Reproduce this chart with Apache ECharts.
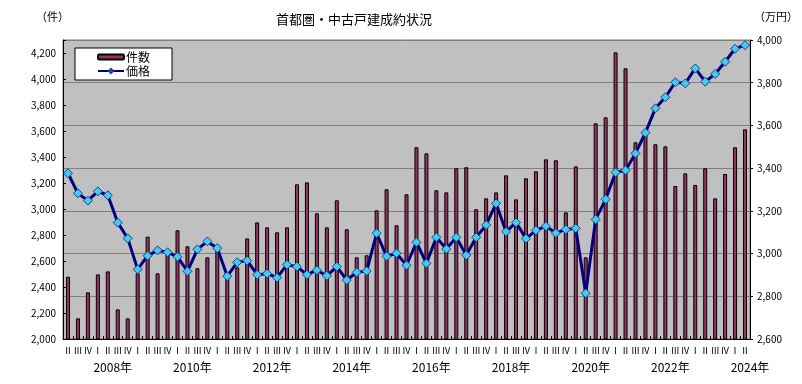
<!DOCTYPE html>
<html>
<head>
<meta charset="utf-8">
<script src="https://cdn.jsdelivr.net/npm/echarts@6/dist/echarts.min.js"></script>
<style>html,body{margin:0;padding:0;background:#fff;}#c{width:802px;height:384px;}</style>
</head>
<body>
<div id="c"></div>
<script>
// Quarter labels 2007 Q2 .. 2024 Q2
const quarterLabels = [
 'Ⅱ','Ⅲ','Ⅳ',
 'Ⅰ','Ⅱ','Ⅲ','Ⅳ', 'Ⅰ','Ⅱ','Ⅲ','Ⅳ', 'Ⅰ','Ⅱ','Ⅲ','Ⅳ', 'Ⅰ','Ⅱ','Ⅲ','Ⅳ',
 'Ⅰ','Ⅱ','Ⅲ','Ⅳ', 'Ⅰ','Ⅱ','Ⅲ','Ⅳ', 'Ⅰ','Ⅱ','Ⅲ','Ⅳ', 'Ⅰ','Ⅱ','Ⅲ','Ⅳ',
 'Ⅰ','Ⅱ','Ⅲ','Ⅳ', 'Ⅰ','Ⅱ','Ⅲ','Ⅳ', 'Ⅰ','Ⅱ','Ⅲ','Ⅳ', 'Ⅰ','Ⅱ','Ⅲ','Ⅳ',
 'Ⅰ','Ⅱ','Ⅲ','Ⅳ', 'Ⅰ','Ⅱ','Ⅲ','Ⅳ', 'Ⅰ','Ⅱ','Ⅲ','Ⅳ', 'Ⅰ','Ⅱ','Ⅲ','Ⅳ',
 'Ⅰ','Ⅱ'
];
const yearLabels = ['2008年','2010年','2012年','2014年','2016年','2018年','2020年','2022年','2024年'];
// 件数 (left axis)
const counts = [2479,2159,2359,2497,2520,2228,2159,2505,2787,2505,
 2654,2836,2713,2544,2628,2679,2500,2551,2774,2897,
 2859,2821,2859,3190,3205,2967,2859,3067,2844,2628,
 2644,2990,3152,2875,3113,3475,3428,3144,3128,3313,
 3321,2998,3082,3128,3259,3074,3236,3290,3382,3375,
 2974,3328,2628,3659,3705,4205,4082,3513,3569,3498,
 3482,3177,3274,3185,3313,3082,3269,3475,3613];
// 価格 (right axis, 万円)
const prices = [3376,3282,3248,3291,3273,3145,3071,2926,2990,3015,
 3006,2985,2917,3020,3057,3025,2894,2959,2967,2901,
 2906,2887,2948,2939,2901,2922,2896,2939,2876,2912,
 2918,3095,2987,3001,2945,3053,2954,3076,3021,3076,
 2992,3076,3134,3235,3102,3146,3070,3109,3128,3096,
 3113,3118,2814,3160,3254,3380,3390,3469,3566,3680,
 3732,3802,3797,3867,3805,3841,3898,3959,3976];

// boundary labels for year axis (70 boundaries between 69 quarters)
const boundaryCats = [];
for (let k = 0; k <= quarterLabels.length; k++) boundaryCats.push(String(k));
const yearAt = {};
yearLabels.forEach((y, m) => { yearAt[5 + 8 * m] = y; });

const FONT = '"Noto Sans CJK JP", sans-serif';
const fmt = v => v.toLocaleString('en-US');

const chart = echarts.init(document.getElementById('c'), null, {renderer: 'canvas'});
chart.setOption({
  animation: false,
  textStyle: {fontFamily: FONT, color: '#000'},
  title: {
    text: '首都圏・中古戸建成約状況',
    left: 271, top: 8,
    textStyle: {fontSize: 13, fontWeight: 'normal', color: '#000', fontFamily: FONT}
  },
  graphic: [
    {type: 'text', left: 36, top: 11, style: {text: '（件）', fontSize: 11, fill: '#000', fontFamily: FONT}},
    {type: 'text', left: 754, top: 11, style: {text: '（万円）', fontSize: 11, fill: '#000', fontFamily: FONT}}
  ],
  legend: {
    left: 75, top: 48,
    orient: 'vertical',
    backgroundColor: '#fff',
    borderColor: '#000', borderWidth: 1, borderRadius: 0,
    padding: [3, 22, 3, 22],
    itemGap: 2,
    itemWidth: 26, itemHeight: 5,
    textStyle: {fontSize: 12, color: '#000', fontFamily: FONT, padding: [0, 0, 0, -3]},
    data: ['件数', '価格']
  },
  grid: {
    left: 63, right: 52, top: 40, bottom: 45,
    show: true, backgroundColor: '#C0C0C0', borderColor: '#808080', borderWidth: 1
  },
  xAxis: [
    {
      type: 'category', data: quarterLabels, boundaryGap: true,
      axisLine: {lineStyle: {color: '#000', width: 1}},
      axisTick: {show: true, inside: true, length: 3, lineStyle: {color: '#000'}},
      axisLabel: {interval: 0, fontSize: 9, margin: 7, color: '#000', fontFamily: FONT}
    },
    {
      type: 'category', data: boundaryCats, boundaryGap: false, position: 'bottom',
      axisLine: {show: false}, axisTick: {show: false}, splitLine: {show: false},
      axisLabel: {
        interval: 0, fontSize: 12, margin: 22, color: '#000', fontFamily: FONT,
        formatter: (v, i) => yearAt[i] || ''
      }
    }
  ],
  yAxis: [
    {
      type: 'value', min: 2000, max: 4300, interval: 200, position: 'left',
      axisLine: {show: true, lineStyle: {color: '#000'}},
      axisTick: {show: true, inside: true, length: 3, lineStyle: {color: '#000'}},
      splitLine: {show: false},
      axisLabel: {fontSize: 10, margin: 7, color: '#000', fontFamily: FONT,
        formatter: v => v > 4200 ? '' : fmt(v)}
    },
    {
      type: 'value', min: 2600, max: 4000, interval: 200, position: 'right',
      axisLine: {show: true, lineStyle: {color: '#000'}},
      axisTick: {show: true, inside: false, length: 3, lineStyle: {color: '#000'}},
      splitLine: {show: true, lineStyle: {color: '#808080', width: 1}},
      axisLabel: {fontSize: 10, margin: 7, color: '#000', fontFamily: FONT, formatter: v => fmt(v)}
    }
  ],
  series: [
    {
      name: '件数', type: 'bar', xAxisIndex: 0, yAxisIndex: 0,
      data: counts, barWidth: 4,
      itemStyle: {color: '#993366', borderColor: '#000', borderWidth: 1}
    },
    {
      name: '価格', type: 'line', xAxisIndex: 0, yAxisIndex: 1,
      data: prices,
      lineStyle: {color: '#000080', width: 3},
      symbol: 'diamond', symbolSize: 9, showAllSymbol: true,
      itemStyle: {color: '#40CCEA', borderColor: '#1F3C9C', borderWidth: 1},
      z: 5
    }
  ]
});
</script>
</body>
</html>
